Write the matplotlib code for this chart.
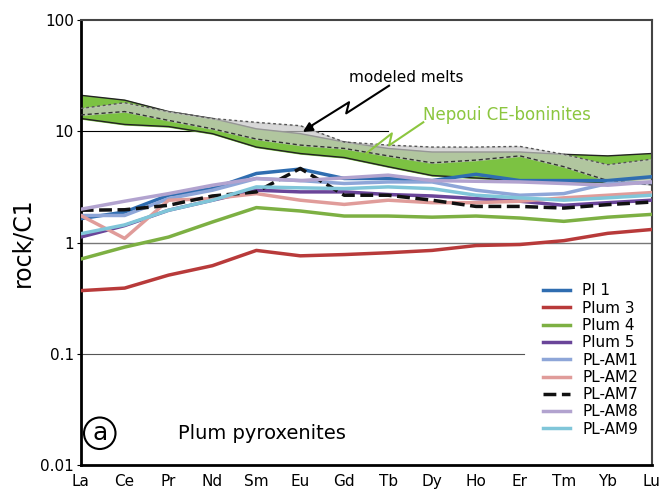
import matplotlib.pyplot as plt
import numpy as np

elements = ['La', 'Ce', 'Pr', 'Nd', 'Sm', 'Eu', 'Gd', 'Tb', 'Dy', 'Ho', 'Er', 'Tm', 'Yb', 'Lu']

# Nepoui CE-boninites field
nepoui_hi = [21, 19, 15, 13, 10.5, 9.5, 8, 7, 6.5, 6.5, 6.5, 6.2, 6, 6.3]
nepoui_lo = [13, 11.5, 11, 9.5, 7.2, 6.3, 5.8, 4.8, 4, 3.8, 3.6, 3.5, 3.5, 3.8]
# modeled melts field
melt_hi = [16, 18, 15, 13, 12, 11.2, 8, 7.5, 7.2, 7.2, 7.3, 6.2, 5.0, 5.6]
melt_lo = [14, 15, 12.5, 10.5, 8.5, 7.5, 7, 6, 5.2, 5.5, 6, 4.8, 3.6, 3.3]

pl1 = [1.64, 1.88, 2.66, 3.05, 4.17, 4.57, 3.76, 3.76, 3.6, 4.1, 3.6, 3.6, 3.6, 3.9]
plum3 = [0.37, 0.39, 0.51, 0.62, 0.85, 0.76, 0.78, 0.81, 0.85, 0.94, 0.96, 1.04, 1.21, 1.31]
plum4 = [0.71, 0.91, 1.12, 1.53, 2.06, 1.92, 1.73, 1.73, 1.69, 1.73, 1.66, 1.55, 1.69, 1.79]
plum5 = [1.12, 1.42, 1.95, 2.4, 2.95, 2.85, 2.85, 2.7, 2.62, 2.48, 2.35, 2.16, 2.28, 2.4]
am1 = [1.75, 1.75, 2.48, 2.95, 3.76, 3.6, 3.39, 3.5, 3.5, 2.95, 2.66, 2.75, 3.39, 3.46]
am2 = [1.75, 1.09, 2.4, 2.48, 2.75, 2.4, 2.2, 2.4, 2.28, 2.28, 2.35, 2.52, 2.66, 2.81]
am7 = [1.95, 1.97, 2.16, 2.62, 2.85, 4.63, 2.66, 2.66, 2.4, 2.11, 2.11, 2.04, 2.19, 2.31]
am8 = [1.99, 2.35, 2.75, 3.27, 3.76, 3.6, 3.81, 4.03, 3.6, 3.55, 3.5, 3.39, 3.27, 3.5]
am9 = [1.2, 1.44, 1.95, 2.4, 3.16, 3.1, 3.05, 3.16, 3.05, 2.66, 2.52, 2.4, 2.52, 2.66]

fig = plt.figure(figsize=(6.67, 4.95), dpi=100)
ax = fig.add_axes([0.121, 0.06, 0.856, 0.9])
x = np.arange(len(elements))

# fields
ax.fill_between(x, nepoui_lo, nepoui_hi, color='#7cc242', zorder=1)
ax.plot(x, nepoui_hi, color='#222222', lw=1, zorder=2)
ax.plot(x, nepoui_lo, color='#222222', lw=1, zorder=2)
ax.fill_between(x, melt_lo, melt_hi, color='#c8c8c8', alpha=0.7, zorder=2)
ax.plot(x, melt_hi, color='#555555', lw=1, ls=(0, (2, 2)), zorder=3)
ax.plot(x, melt_lo, color='#333333', lw=1, ls=(0, (3, 2)), zorder=3)

# partial reference lines
ax.plot([0, 7.0], [10, 10], color='black', lw=0.8, zorder=0)
ax.plot([0, 13], [1, 1], color='#777777', lw=1, zorder=0)
ax.plot([0, 10.1], [0.1, 0.1], color='#555555', lw=0.8, zorder=0)

series = [
    ('Pl 1', pl1, '#2f6db0', '-'),
    ('Plum 3', plum3, '#b83a3a', '-'),
    ('Plum 4', plum4, '#7db043', '-'),
    ('Plum 5', plum5, '#6a4599', '-'),
    ('PL-AM1', am1, '#8ea6d8', '-'),
    ('PL-AM2', am2, '#e09c9a', '-'),
    ('PL-AM7', am7, '#111111', '--'),
    ('PL-AM8', am8, '#b2a3cf', '-'),
    ('PL-AM9', am9, '#80c6d9', '-'),
]
for name, vals, col, ls in series:
    ax.plot(x, vals, color=col, ls=ls, lw=2.5, label=name, zorder=4)

ax.set_yscale('log')
ax.set_ylim(0.01, 100)
ax.set_xlim(0, 13)
ax.set_xticks(x)
ax.set_xticklabels(elements, fontsize=11)
ax.set_yticks([0.01, 0.1, 1, 10, 100])
ax.set_yticklabels(['0.01', '0.1', '1', '10', '100'], fontsize=11)
ax.minorticks_off()
ax.tick_params(axis='x', length=0, pad=6)
ax.tick_params(axis='y', length=3, pad=2)
ax.set_ylabel('rock/C1', fontsize=17)
for s in ['left', 'bottom']:
    ax.spines[s].set_linewidth(2)
for s in ['top', 'right']:
    ax.spines[s].set_linewidth(1.5)
    ax.spines[s].set_color('#444444')

ax.legend(loc='lower right', frameon=False, fontsize=11, handlelength=1.8,
          labelspacing=0.15, borderaxespad=0.3, bbox_to_anchor=(0.995, 0.04))

# annotations
ax.text(0.47, 0.86, 'modeled melts', transform=ax.transAxes, fontsize=11)
ax.plot([0.54, 0.465, 0.47, 0.395], [0.852, 0.79, 0.815, 0.755], color='black',
        lw=1.5, transform=ax.transAxes, zorder=5)
ax.annotate('', xy=(0.385, 0.745), xytext=(0.41, 0.765), xycoords='axes fraction',
            arrowprops=dict(arrowstyle='-|>', color='black', lw=1.5, mutation_scale=14))
ax.text(0.6, 0.775, 'Nepoui CE-boninites', transform=ax.transAxes, fontsize=12,
        color='#8cc63f')
ax.plot([0.6, 0.54, 0.545, 0.5], [0.77, 0.718, 0.745, 0.7], color='#8cc63f',
        lw=1.5, transform=ax.transAxes, zorder=5)

ax.text(0.02, 0.045, 'a', transform=ax.transAxes, fontsize=18, va='bottom',
        bbox=dict(boxstyle='circle,pad=0.15', fc='white', ec='black', lw=1.5))
ax.text(0.17, 0.05, 'Plum pyroxenites', transform=ax.transAxes, fontsize=14, va='bottom')

fig.savefig('out.png', dpi=100)
